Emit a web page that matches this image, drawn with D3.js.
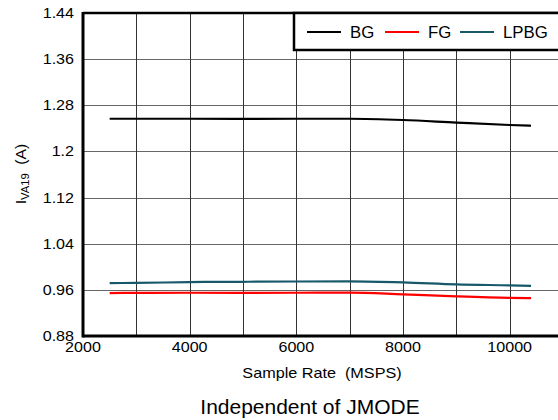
<!DOCTYPE html>
<html><head><meta charset="utf-8">
<script src="https://cdn.jsdelivr.net/npm/d3@7"></script>
<style>body{margin:0;background:#fff}svg{display:block;font-family:"Liberation Sans",Arial,sans-serif}</style>
</head><body><svg id="c" width="558" height="420"></svg>
<script>
const sampleRate = [2500, 3000, 4000, 5000, 6000, 7000, 8000, 9000, 10000, 10400];
const bg   = [1.2567, 1.2567, 1.2567, 1.2565, 1.2567, 1.2567, 1.2545, 1.2500, 1.2458, 1.2445];
const fg   = [0.9545, 0.9547, 0.9550, 0.9548, 0.9550, 0.9553, 0.9522, 0.9487, 0.9462, 0.9458];
const lpbg = [0.9718, 0.9720, 0.9735, 0.9740, 0.9745, 0.9747, 0.9730, 0.9695, 0.9678, 0.9670];
const xTicks = [2000, 4000, 6000, 8000, 10000];
const xGrid = [3000, 4000, 5000, 6000, 7000, 8000, 9000, 10000];
const yTicks = [0.88, 0.96, 1.04, 1.12, 1.2, 1.28, 1.36, 1.44];
const seriesNames = ["BG", "FG", "LPBG"];
const seriesColors = ["#000000", "#ff0000", "#17596b"];

const svg = d3.select("#c");
const L = 83, T = 13, R = 563, B = 336;
const x = d3.scaleLinear().domain([2000, 11000]).range([L, R]);
const y = d3.scaleLinear().domain([0.88, 1.44]).range([B, T]);

// grid
svg.append("g").selectAll("line").data(yTicks.slice(1, -1)).join("line")
  .attr("x1", L).attr("x2", R).attr("y1", d => Math.round(y(d)) + 0.5).attr("y2", d => Math.round(y(d)) + 0.5)
  .attr("stroke", "#666").attr("stroke-width", 1);
svg.append("g").selectAll("line").data(xGrid).join("line")
  .attr("y1", T).attr("y2", B).attr("x1", d => Math.round(x(d)) + 0.5).attr("x2", d => Math.round(x(d)) + 0.5)
  .attr("stroke", "#333").attr("stroke-width", 1);

// series
const series = [bg, fg, lpbg];
const line = d3.line().x((d, i) => x(sampleRate[i])).y(d => y(d)).curve(d3.curveMonotoneX);
series.forEach((s, k) => {
  svg.append("path").datum(s).attr("d", line).attr("fill", "none")
    .attr("stroke", seriesColors[k]).attr("stroke-width", 2.2);
});

// frame
svg.append("line").attr("x1", L).attr("x2", R).attr("y1", T).attr("y2", T).attr("stroke", "#000").attr("stroke-width", 2.5);
svg.append("line").attr("x1", L).attr("x2", R).attr("y1", B).attr("y2", B).attr("stroke", "#000").attr("stroke-width", 3);
svg.append("line").attr("x1", L).attr("x2", L).attr("y1", T - 1).attr("y2", B + 1.5).attr("stroke", "#000").attr("stroke-width", 3);

// y axis labels
const ya = svg.append("g").attr("transform", `translate(${L},0)`)
  .call(d3.axisLeft(y).tickValues(yTicks).tickFormat(d => String(+d.toFixed(2))).tickSize(0).tickPadding(9));
ya.select(".domain").remove();
ya.selectAll("text").attr("font-size", 14).attr("font-family", "Liberation Sans, Arial, sans-serif").attr("fill", "#000")
  .attr("transform", "scale(1.15,1)").attr("x", -9 / 1.15);

// x axis labels
const xa = svg.append("g").attr("transform", `translate(0,${B})`)
  .call(d3.axisBottom(x).tickValues(xTicks).tickFormat(d3.format("")).tickSize(0).tickPadding(6));
xa.select(".domain").remove();
xa.selectAll("text").attr("font-size", 14).attr("font-family", "Liberation Sans, Arial, sans-serif").attr("fill", "#000")
  .attr("dy", "0.71em");
xa.selectAll(".tick").each(function (d) {
  d3.select(this).attr("transform", `translate(${x(d) / 1.15},0)`);
});
xa.attr("transform", `translate(0,${B}) scale(1.15,1)`);

// axis titles
svg.append("text").attr("x", 0).attr("y", 0).attr("text-anchor", "middle")
  .attr("font-size", 15).attr("transform", "translate(322,378) scale(1.08,1)")
  .text("Sample Rate\u00a0 (MSPS)");
svg.append("text").attr("x", 0).attr("y", 0).attr("text-anchor", "middle")
  .attr("font-size", 20).attr("transform", "translate(310,414) scale(1.05,1)").text("Independent of JMODE");
const yt = svg.append("text").attr("transform", "translate(26,174) rotate(-90) scale(1.12,1)").attr("text-anchor", "middle").attr("font-size", 14);
yt.append("tspan").text("I");
yt.append("tspan").attr("font-size", 10).attr("dy", 3).text("VA19");
yt.append("tspan").attr("dy", -3).text("\u00a0 (A)");

// legend
const lg = svg.append("g");
lg.append("rect").attr("x", 294).attr("y", 13).attr("width", 280).attr("height", 37)
  .attr("fill", "#fff").attr("stroke", "#000").attr("stroke-width", 2.5);
const lx = [307, 385, 460];
seriesNames.forEach((n, k) => {
  lg.append("line").attr("x1", lx[k]).attr("x2", lx[k] + 34).attr("y1", 32).attr("y2", 32)
    .attr("stroke", seriesColors[k]).attr("stroke-width", 2.2);
  lg.append("text").attr("x", 0).attr("y", 0).attr("font-size", 16)
    .attr("transform", `translate(${lx[k] + 43},38) scale(1.05,1)`).text(n);
});
</script></body></html>
